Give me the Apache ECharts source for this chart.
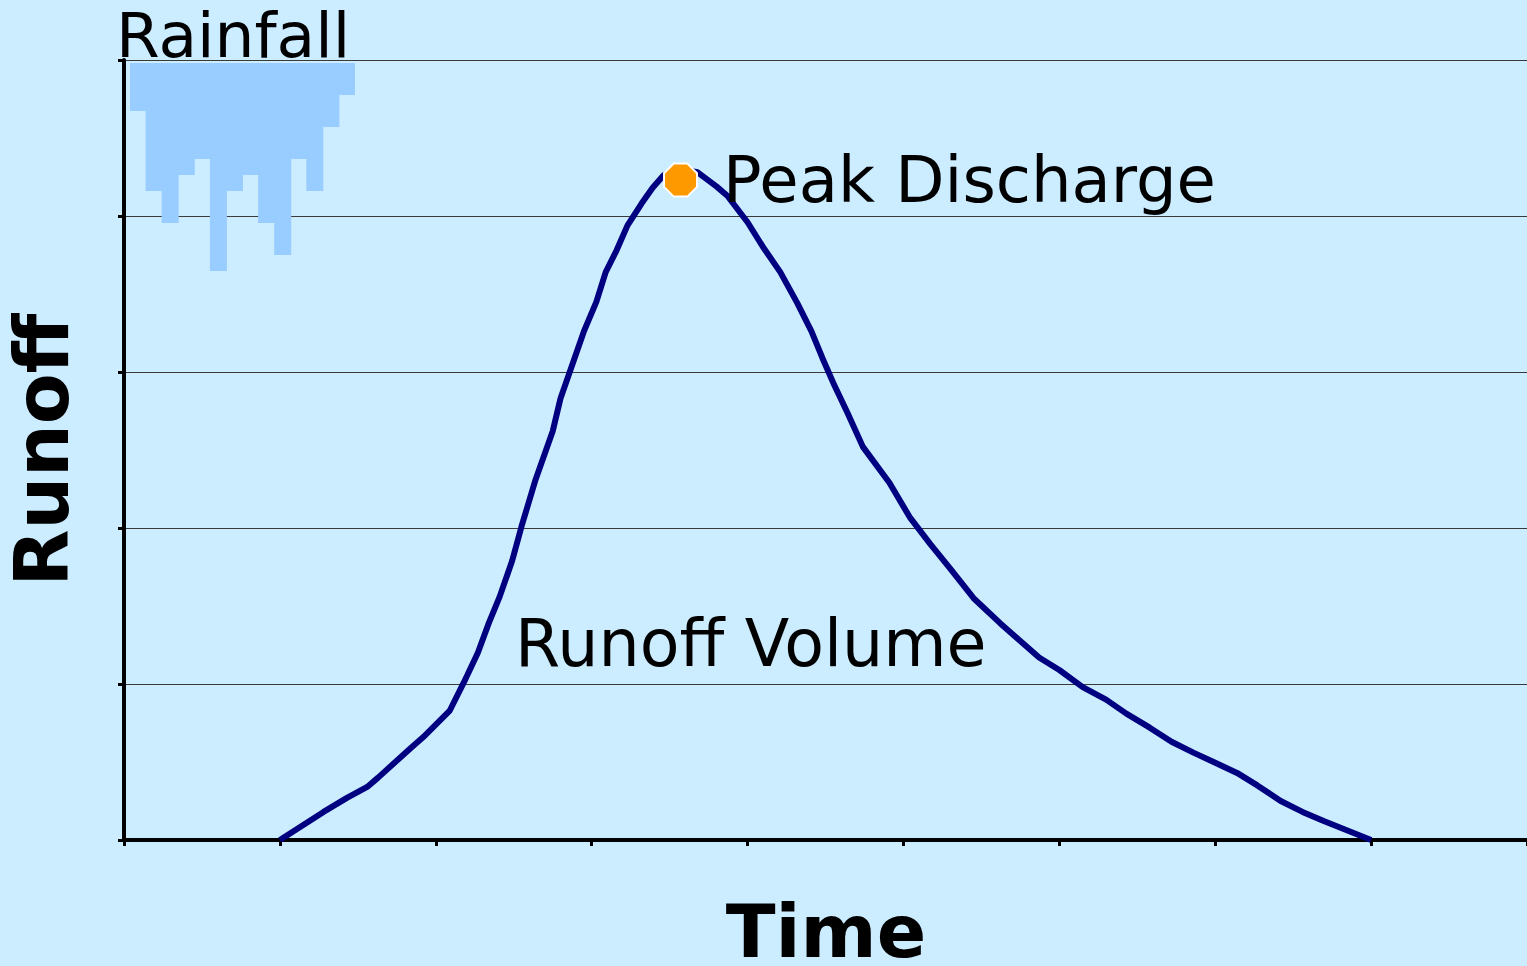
<!DOCTYPE html>
<html>
<head>
<meta charset="utf-8">
<script src="https://cdn.jsdelivr.net/npm/echarts@6/dist/echarts.min.js"></script>
<style>
  html, body { margin: 0; padding: 0; background: #CCECFF; }
  #view { width: 1527px; height: 966px; }
</style>
</head>
<body>
<div id="view"></div>
<script>
// hydrograph, time in arbitrary units (0..9), runoff 0..5
var hydroTime = [1.00, 1.28, 1.43, 1.56, 1.63, 1.84, 1.92, 2.09, 2.18, 2.27, 2.34, 2.41, 2.49, 2.55,
    2.64, 2.75, 2.80, 2.95, 3.03, 3.09, 3.16, 3.23, 3.32, 3.39, 3.46, 3.57, 3.68, 3.80, 3.87, 4.00,
    4.10, 4.21, 4.32, 4.41, 4.48, 4.55, 4.64, 4.74, 4.91, 5.04, 5.17, 5.30, 5.45, 5.62, 5.79, 5.87,
    6.00, 6.15, 6.30, 6.43, 6.58, 6.72, 6.86, 6.99, 7.14, 7.27, 7.42, 7.56, 7.70, 8.00];
var hydroRunoff = [0.00, 0.18, 0.27, 0.34, 0.40, 0.59, 0.66, 0.83, 1.01, 1.20, 1.39, 1.56, 1.79, 2.01,
    2.31, 2.62, 2.83, 3.26, 3.45, 3.64, 3.78, 3.94, 4.08, 4.18, 4.26, 4.30, 4.28, 4.19, 4.13, 3.96,
    3.80, 3.64, 3.44, 3.26, 3.09, 2.93, 2.74, 2.52, 2.29, 2.07, 1.90, 1.74, 1.55, 1.39, 1.24, 1.17,
    1.09, 0.98, 0.90, 0.81, 0.72, 0.63, 0.56, 0.50, 0.43, 0.35, 0.25, 0.18, 0.12, 0.00];
var peakPoint = [3.57, 4.23];

// hyetograph (hanging bars)
var rainSteps = ['1', '2', '3', '4', '5', '6', '7', '8', '9', '10', '11', '12', '13', '14'];
var rainDepth = [3, 8, 10, 7, 6, 13, 8, 7, 10, 12, 6, 8, 4, 2];

var labels = {
    rain: 'Rainfall',
    peak: 'Peak Discharge',
    volume: 'Runoff Volume',
    xName: 'Time',
    yName: 'Runoff'
};

var chart = echarts.init(document.getElementById('view'), null, {renderer: 'svg'});

var hydro = hydroTime.map(function(t, i) { return [t, hydroRunoff[i]]; });
var font = '"DejaVu Sans", Verdana, sans-serif';
// octagon marker
var octagon = 'path://M-0.414,-1L0.414,-1L1,-0.414L1,0.414L0.414,1L-0.414,1L-1,0.414L-1,-0.414Z';

var option = {
    backgroundColor: '#CCECFF',
    animation: false,
    grid: [
        {left: 124, right: 0, top: 60, bottom: 126},
        {left: 130, width: 225, top: 63, height: 210}
    ],
    xAxis: [
        {
            type: 'value', gridIndex: 0, min: 0, max: 9, interval: 1,
            axisLine: {lineStyle: {color: '#000', width: 4}},
            axisTick: {show: true, length: 6, lineStyle: {color: '#000', width: 3}},
            axisLabel: {show: false},
            splitLine: {show: false}
        },
        {
            type: 'category', gridIndex: 1, data: rainSteps, show: false
        }
    ],
    yAxis: [
        {
            type: 'value', gridIndex: 0, min: 0, max: 5, interval: 1,
            axisLine: {show: true, lineStyle: {color: '#000', width: 4}},
            axisTick: {show: true, length: 6, lineStyle: {color: '#000', width: 3}},
            axisLabel: {show: false},
            splitLine: {show: true, lineStyle: {color: '#3a3a3a', width: 1}}
        },
        {
            type: 'value', gridIndex: 1, min: 0, max: 13.125, inverse: true, show: false
        }
    ],
    series: [
        {
            type: 'bar', xAxisIndex: 1, yAxisIndex: 1, data: rainDepth,
            barWidth: 17,
            itemStyle: {color: '#99CCFF'}, z: 1
        },
        {
            type: 'line', xAxisIndex: 0, yAxisIndex: 0, data: hydro,
            symbol: 'none', lineStyle: {color: '#000080', width: 6}, z: 3
        },
        {
            type: 'scatter', xAxisIndex: 0, yAxisIndex: 0, data: [peakPoint],
            symbol: octagon, symbolSize: 33,
            itemStyle: {color: '#FF9900', opacity: 1, borderColor: '#fff', borderWidth: 2}, z: 4
        }
    ],
    graphic: [
        {type: 'text', x: 116, y: 35, z: 10,
            style: {text: labels.rain, font: '63px ' + font, fill: '#000', align: 'left', verticalAlign: 'middle'}},
        {type: 'text', x: 723, y: 180, z: 10,
            style: {text: labels.peak, font: '64px ' + font, fill: '#000', align: 'left', verticalAlign: 'middle'}},
        {type: 'text', x: 515, y: 643, z: 10,
            style: {text: labels.volume, font: '65px ' + font, fill: '#000', align: 'left', verticalAlign: 'middle'}},
        {type: 'text', x: 826, y: 931, z: 10,
            style: {text: labels.xName, font: 'bold 73px ' + font, fill: '#000', align: 'center', verticalAlign: 'middle'}},
        {type: 'text', x: 42, y: 450, rotation: Math.PI / 2, z: 10,
            style: {text: labels.yName, font: 'bold 74px ' + font, fill: '#000', align: 'center', verticalAlign: 'middle'}}
    ]
};

chart.setOption(option);
</script>
</body>
</html>
